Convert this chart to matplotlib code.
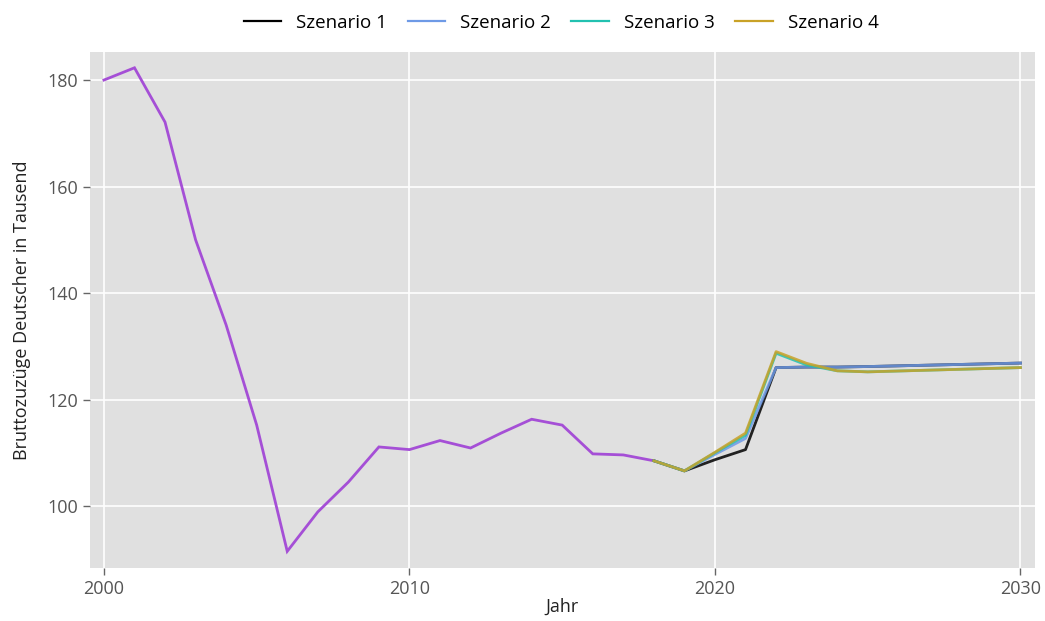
import matplotlib
matplotlib.use("Agg")
import matplotlib.pyplot as plt

plt.rcParams['font.family'] = ['Open Sans', 'DejaVu Sans']

# Historical values (thousands)
hist_years = list(range(2000, 2019))
hist_values = [180.0, 182.3, 172.1, 150.0, 134.0, 115.2, 91.5, 98.9, 104.5,
               111.1, 110.6, 112.3, 110.9, 113.7, 116.3, 115.2, 109.8, 109.6, 108.5]

# Scenario projections
scen_years = [2018, 2019, 2020, 2021, 2022, 2023, 2024, 2025, 2030]
szenario_1 = [108.5, 106.6, 108.7, 110.6, 126.0, 126.1, 126.1, 126.2, 126.85]
szenario_2 = [108.5, 106.6, 109.7, 112.7, 126.0, 126.1, 126.1, 126.2, 126.85]
szenario_3 = [108.5, 106.6, 110.0, 113.3, 128.7, 126.5, 125.4, 125.2, 126.0]
szenario_4 = [108.5, 106.6, 110.1, 113.7, 129.0, 126.8, 125.4, 125.2, 126.0]

scenario_names = ["Szenario 1", "Szenario 2", "Szenario 3", "Szenario 4"]
scenario_colors = ["#000000", "#6e9ae6", "#22c1b0", "#c9a227"]
x_ticks = [2000, 2010, 2020, 2030]
y_ticks = [100, 120, 140, 160, 180]

fig = plt.figure(figsize=(10.45, 6.21), dpi=100)
ax = fig.add_axes([0.086, 0.0853, 0.904, 0.8309])
ax.set_facecolor("#e0e0e0")

ax.plot(hist_years, hist_values, color="#a54fd6", lw=2.0, solid_joinstyle="miter")
for name, vals, col in zip(scenario_names,
                           [szenario_1, szenario_2, szenario_3, szenario_4],
                           scenario_colors):
    ax.plot(scen_years, vals, color=col, lw=2.0, alpha=0.85, label=name)

ax.set_xlim(1999.54, 2030.46)
ax.set_ylim(88.36, 185.26)
ax.set_xticks(x_ticks)
ax.set_yticks(y_ticks)
ax.grid(True, color="white", lw=1.2)
ax.set_axisbelow(True)
for s in ax.spines.values():
    s.set_visible(False)
ax.tick_params(axis="both", colors="#666666", labelsize=13, length=5, width=1)
ax.tick_params(axis="both", labelcolor="#555555")

ax.set_xlabel("Jahr", fontsize=13, color="#222222", labelpad=0)
ax.set_ylabel("Bruttozuzüge Deutscher in Tausend", fontsize=13, color="#222222", labelpad=12)

leg = fig.legend(loc="upper center", bbox_to_anchor=(0.537, 1.005), ncol=4, frameon=False,
                 fontsize=13.5, handlelength=2.0, columnspacing=1.1, handletextpad=0.8)
for line in leg.get_lines():
    line.set_alpha(1)
    line.set_linewidth(1.6)

fig.savefig("out.png", dpi=100)
